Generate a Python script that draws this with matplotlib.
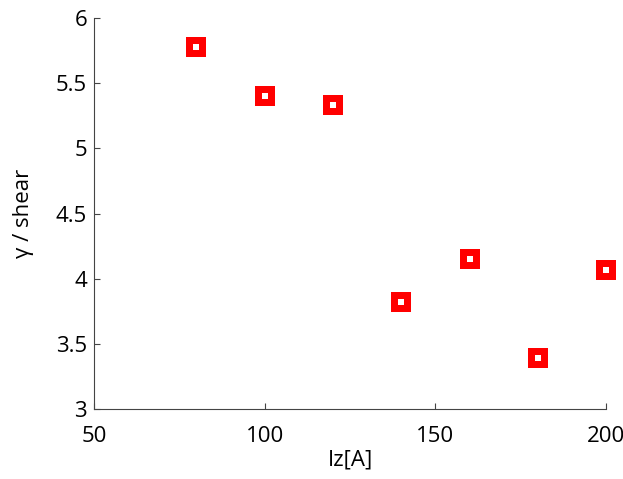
import matplotlib
matplotlib.use('Agg')
import matplotlib.pyplot as plt

# ток и соответствующий сдвиг
current = [80, 100, 120, 140, 160, 180, 200]
shear = [5.78, 5.40, 5.33, 3.82, 4.15, 3.39, 4.07]

plt.rcParams['font.family'] = ['Open Sans', 'DejaVu Sans']

fig = plt.figure(figsize=(6.23, 4.79), dpi=100)
ax = fig.add_axes([0.151, 0.146, 0.822, 0.816])

ax.plot(current, shear, 's', color='#ff0000', markersize=15, markeredgewidth=0,
        linestyle='none', clip_on=False)
ax.plot(current, shear, 's', color='white', markersize=4, markeredgewidth=0,
        linestyle='none', clip_on=False)

ax.set_xlim(50, 200)
ax.set_ylim(3, 6)
ax.set_xticks([50, 100, 150, 200])
ax.set_yticks([3, 3.5, 4, 4.5, 5, 5.5, 6])
ax.set_yticklabels(['3', '3.5', '4', '4.5', '5', '5.5', '6'])

for side in ['top', 'right']:
    ax.spines[side].set_visible(False)
for side in ['left', 'bottom']:
    ax.spines[side].set_color('#444444')
    ax.spines[side].set_linewidth(0.8)

ax.tick_params(direction='in', length=4, width=0.8, color='#444444',
               labelsize=16)
ax.tick_params(axis='x', pad=12)
ax.tick_params(axis='y', pad=5)
ax.set_xlabel('Iz[A]', fontsize=16, labelpad=2)
ax.set_ylabel('γ / shear', fontsize=16, labelpad=16)

fig.savefig('out.png', dpi=100)
plt.close(fig)
